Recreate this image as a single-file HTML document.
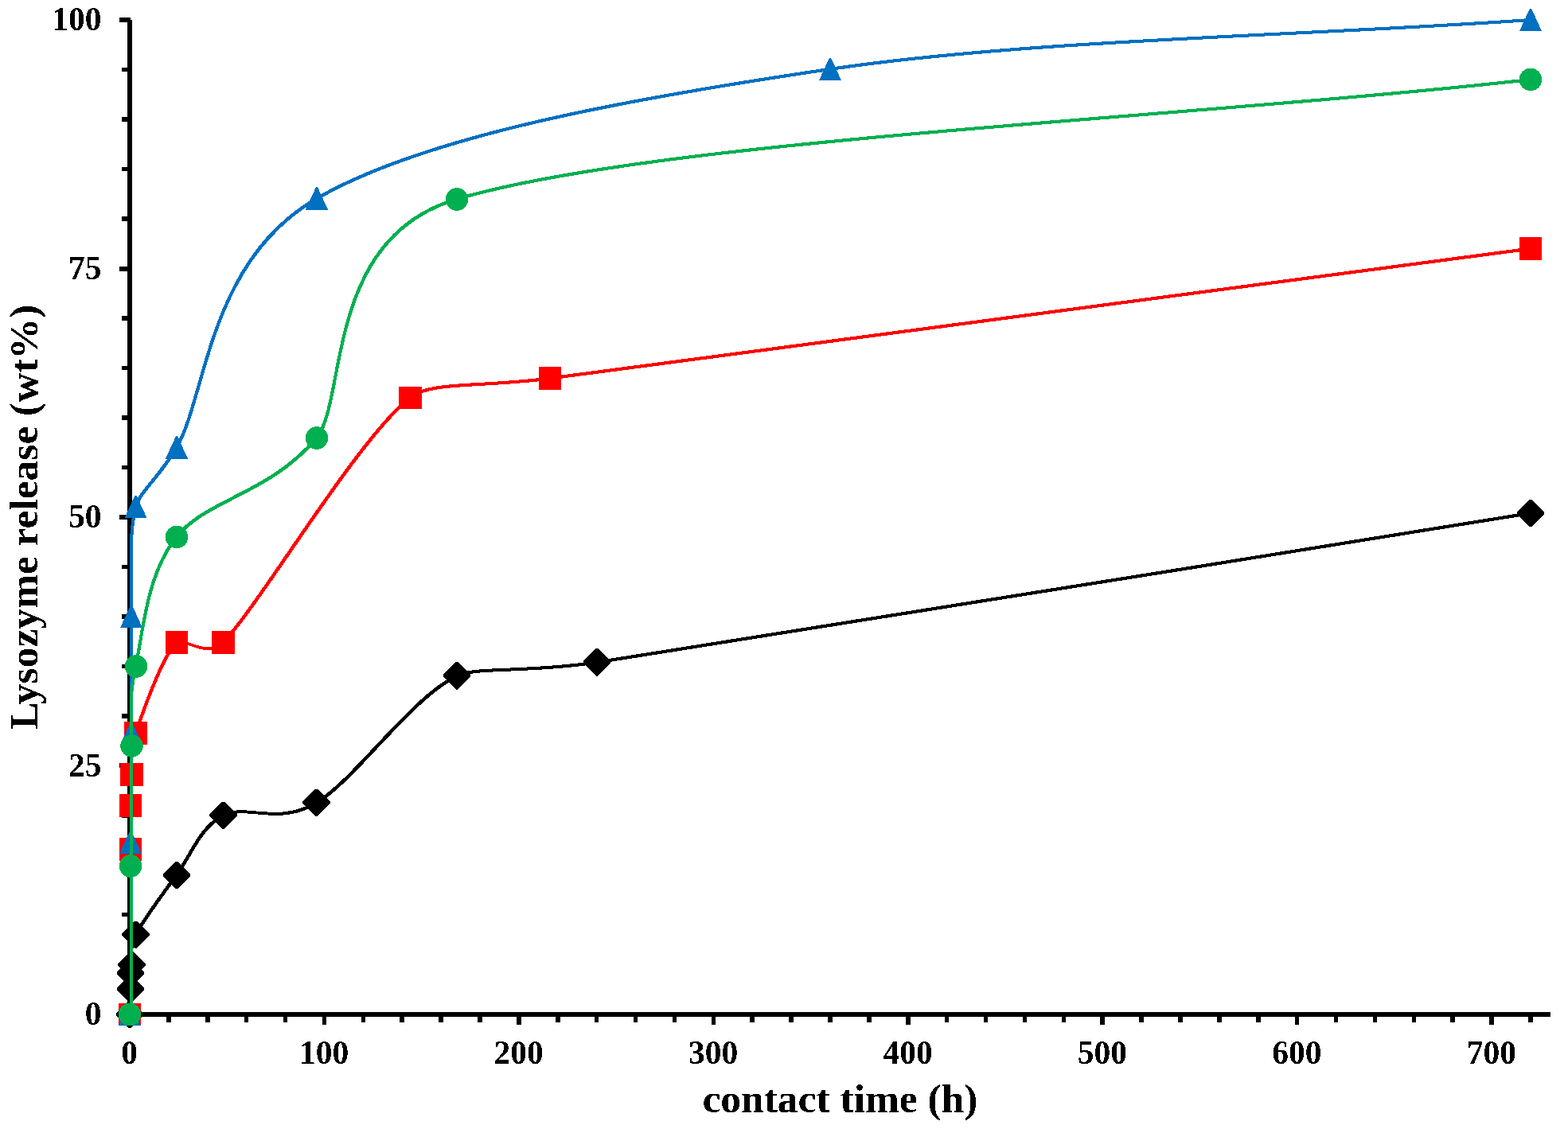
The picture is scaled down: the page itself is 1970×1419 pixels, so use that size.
<!DOCTYPE html>
<html lang="en"><head><meta charset="utf-8"><title>Lysozyme release vs contact time</title>
<style>
html,body{margin:0;padding:0;background:#fff;}
body{width:1970px;height:1419px;overflow:hidden;}
svg{display:block;}
text{font-family:"Liberation Serif",serif;font-weight:bold;fill:#000;}
.tick{font-size:41.5px;}
.title{font-size:51.5px;}
</style></head><body>
<svg width="1970" height="1419" viewBox="0 0 1970 1419">
<rect x="0" y="0" width="1970" height="1419" fill="#fff"/>
<defs><filter id="crisp" x="-5%" y="-5%" width="110%" height="110%" color-interpolation-filters="sRGB"><feComponentTransfer><feFuncA type="discrete" tableValues="0 0 1 1"/></feComponentTransfer></filter></defs>
<g fill="#000" shape-rendering="crispEdges">
<rect x="160" y="25" width="6" height="1253"/>
<rect x="160" y="1272" width="1788" height="6"/>
<rect x="150" y="1272" width="11" height="6"/>
<rect x="153" y="1209" width="8" height="6"/>
<rect x="153" y="1147" width="8" height="5"/>
<rect x="153" y="1085" width="8" height="5"/>
<rect x="153" y="1022" width="8" height="6"/>
<rect x="150" y="959" width="11" height="6"/>
<rect x="153" y="897" width="8" height="6"/>
<rect x="153" y="835" width="8" height="5"/>
<rect x="153" y="772" width="8" height="6"/>
<rect x="153" y="710" width="8" height="5"/>
<rect x="150" y="647" width="11" height="6"/>
<rect x="153" y="585" width="8" height="5"/>
<rect x="153" y="522" width="8" height="6"/>
<rect x="153" y="460" width="8" height="5"/>
<rect x="153" y="397" width="8" height="6"/>
<rect x="150" y="335" width="11" height="6"/>
<rect x="153" y="272" width="8" height="6"/>
<rect x="153" y="210" width="8" height="5"/>
<rect x="153" y="147" width="8" height="6"/>
<rect x="153" y="85" width="8" height="5"/>
<rect x="150" y="22" width="14" height="6"/>
<rect x="160" y="1277" width="6" height="11"/>
<rect x="209" y="1277" width="6" height="8"/>
<rect x="258" y="1277" width="6" height="8"/>
<rect x="307" y="1277" width="5" height="8"/>
<rect x="356" y="1277" width="5" height="8"/>
<rect x="405" y="1277" width="5" height="11"/>
<rect x="454" y="1277" width="5" height="8"/>
<rect x="502" y="1277" width="6" height="8"/>
<rect x="551" y="1277" width="6" height="8"/>
<rect x="600" y="1277" width="6" height="8"/>
<rect x="649" y="1277" width="6" height="11"/>
<rect x="698" y="1277" width="6" height="8"/>
<rect x="747" y="1277" width="5" height="8"/>
<rect x="796" y="1277" width="5" height="8"/>
<rect x="845" y="1277" width="5" height="8"/>
<rect x="894" y="1277" width="5" height="11"/>
<rect x="942" y="1277" width="6" height="8"/>
<rect x="991" y="1277" width="6" height="8"/>
<rect x="1040" y="1277" width="6" height="8"/>
<rect x="1089" y="1277" width="6" height="8"/>
<rect x="1138" y="1277" width="6" height="11"/>
<rect x="1187" y="1277" width="5" height="8"/>
<rect x="1236" y="1277" width="5" height="8"/>
<rect x="1285" y="1277" width="5" height="8"/>
<rect x="1334" y="1277" width="5" height="8"/>
<rect x="1382" y="1277" width="6" height="11"/>
<rect x="1431" y="1277" width="6" height="8"/>
<rect x="1480" y="1277" width="6" height="8"/>
<rect x="1529" y="1277" width="6" height="8"/>
<rect x="1578" y="1277" width="6" height="8"/>
<rect x="1627" y="1277" width="5" height="11"/>
<rect x="1676" y="1277" width="5" height="8"/>
<rect x="1725" y="1277" width="5" height="8"/>
<rect x="1774" y="1277" width="5" height="8"/>
<rect x="1822" y="1277" width="6" height="8"/>
<rect x="1871" y="1277" width="6" height="11"/>
<rect x="1920" y="1277" width="6" height="8"/>
</g>
<g class="tick" filter="url(#crisp)">
<text x="127.4" y="1288.2" text-anchor="end">0</text>
<text x="127.4" y="975.7" text-anchor="end">25</text>
<text x="127.4" y="663.2" text-anchor="end">50</text>
<text x="127.4" y="350.7" text-anchor="end">75</text>
<text x="127.4" y="38.2" text-anchor="end">100</text>
<text x="162.7" y="1337.3" text-anchor="middle">0</text>
<text x="407.1" y="1337.3" text-anchor="middle">100</text>
<text x="651.6" y="1337.3" text-anchor="middle">200</text>
<text x="896.0" y="1337.3" text-anchor="middle">300</text>
<text x="1140.5" y="1337.3" text-anchor="middle">400</text>
<text x="1384.9" y="1337.3" text-anchor="middle">500</text>
<text x="1629.3" y="1337.3" text-anchor="middle">600</text>
<text x="1873.8" y="1337.3" text-anchor="middle">700</text>
</g>
<g filter="url(#crisp)"><text class="title" x="1055.5" y="1397.6" text-anchor="middle">contact time (h)</text></g>
<g filter="url(#crisp)"><text class="title" transform="translate(47.4,649.7) rotate(-90)" text-anchor="middle">Lysozyme release (wt%)</text></g>
<g shape-rendering="crispEdges">
<g fill="none" stroke="#000000" stroke-width="2.8" stroke-linejoin="round" stroke-linecap="butt">
<path transform="translate(-0.6,-0.6)" d="M164.50,1275.00 C164.67,1264.57 164.92,1252.27 165.00,1243.70 C165.08,1235.13 165.00,1228.77 165.00,1223.60 C165.00,1220.15 164.39,1218.12 165.00,1212.70 C165.83,1205.36 161.94,1192.02 170.50,1175.00 C179.95,1156.22 203.40,1125.00 221.70,1100.00 C240.00,1075.00 251.00,1040.17 280.30,1025.00 C309.60,1009.83 348.60,1038.25 397.50,1009.00 C446.40,979.75 515.00,878.92 573.70,849.50 C596.52,838.07 662.29,845.75 749.70,832.50 C974.58,798.42 1531.90,707.50 1923.00,645.00"/>
<path transform="translate(0.0,0.0)" d="M164.50,1275.00 C164.67,1264.57 164.92,1252.27 165.00,1243.70 C165.08,1235.13 165.00,1228.77 165.00,1223.60 C165.00,1220.15 164.39,1218.12 165.00,1212.70 C165.83,1205.36 161.94,1192.02 170.50,1175.00 C179.95,1156.22 203.40,1125.00 221.70,1100.00 C240.00,1075.00 251.00,1040.17 280.30,1025.00 C309.60,1009.83 348.60,1038.25 397.50,1009.00 C446.40,979.75 515.00,878.92 573.70,849.50 C596.52,838.07 662.29,845.75 749.70,832.50 C974.58,798.42 1531.90,707.50 1923.00,645.00"/>
<path transform="translate(0.6,0.6)" d="M164.50,1275.00 C164.67,1264.57 164.92,1252.27 165.00,1243.70 C165.08,1235.13 165.00,1228.77 165.00,1223.60 C165.00,1220.15 164.39,1218.12 165.00,1212.70 C165.83,1205.36 161.94,1192.02 170.50,1175.00 C179.95,1156.22 203.40,1125.00 221.70,1100.00 C240.00,1075.00 251.00,1040.17 280.30,1025.00 C309.60,1009.83 348.60,1038.25 397.50,1009.00 C446.40,979.75 515.00,878.92 573.70,849.50 C596.52,838.07 662.29,845.75 749.70,832.50 C974.58,798.42 1531.90,707.50 1923.00,645.00"/>
</g>
<g fill="#000000">
<path d="M161.7,1257.8 L164.3,1257.8 L180.2,1273.7 L180.2,1276.3 L164.3,1292.2 L161.7,1292.2 L145.8,1276.3 L145.8,1273.7 Z"/>
<path d="M162.7,1226.3 L165.3,1226.3 L181.2,1242.2 L181.2,1244.8 L165.3,1260.7 L162.7,1260.7 L146.8,1244.8 L146.8,1242.2 Z"/>
<path d="M162.7,1206.3 L165.3,1206.3 L181.2,1222.2 L181.2,1224.8 L165.3,1240.7 L162.7,1240.7 L146.8,1224.8 L146.8,1222.2 Z"/>
<path d="M164.2,1195.3 L166.8,1195.3 L182.7,1211.2 L182.7,1213.8 L166.8,1229.7 L164.2,1229.7 L148.3,1213.8 L148.3,1211.2 Z"/>
<path d="M169.2,1157.8 L171.8,1157.8 L187.7,1173.7 L187.7,1176.3 L171.8,1192.2 L169.2,1192.2 L153.3,1176.3 L153.3,1173.7 Z"/>
<path d="M220.7,1082.8 L223.3,1082.8 L239.2,1098.7 L239.2,1101.3 L223.3,1117.2 L220.7,1117.2 L204.8,1101.3 L204.8,1098.7 Z"/>
<path d="M279.2,1007.8 L281.8,1007.8 L297.7,1023.7 L297.7,1026.3 L281.8,1042.2 L279.2,1042.2 L263.3,1026.3 L263.3,1023.7 Z"/>
<path d="M396.2,991.8 L398.8,991.8 L414.7,1007.7 L414.7,1010.3 L398.8,1026.2 L396.2,1026.2 L380.3,1010.3 L380.3,1007.7 Z"/>
<path d="M572.7,832.3 L575.3,832.3 L591.2,848.2 L591.2,850.8 L575.3,866.7 L572.7,866.7 L556.8,850.8 L556.8,848.2 Z"/>
<path d="M748.7,815.3 L751.3,815.3 L767.2,831.2 L767.2,833.8 L751.3,849.7 L748.7,849.7 L732.8,833.8 L732.8,831.2 Z"/>
<path d="M1921.7,627.8 L1924.3,627.8 L1940.2,643.7 L1940.2,646.3 L1924.3,662.2 L1921.7,662.2 L1905.8,646.3 L1905.8,643.7 Z"/>
</g></g>
<g shape-rendering="crispEdges">
<g fill="none" stroke="#FF0000" stroke-width="2.8" stroke-linejoin="round" stroke-linecap="butt">
<path transform="translate(-0.6,-0.6)" d="M164.50,1275.00 C164.67,1205.83 164.92,1111.27 165.00,1067.50 C165.05,1039.95 165.00,1022.27 165.00,1012.40 C165.00,996.72 164.08,988.57 165.00,973.40 C165.82,959.83 162.04,946.14 170.50,921.40 C179.95,893.75 203.40,826.48 221.70,807.50 C229.27,799.65 260.08,828.71 280.30,807.50 C329.18,756.22 446.55,555.13 515.00,499.80 C540.69,479.04 602.94,487.21 691.00,475.50 C925.67,444.28 1512.33,366.83 1923.00,312.50"/>
<path transform="translate(0.0,0.0)" d="M164.50,1275.00 C164.67,1205.83 164.92,1111.27 165.00,1067.50 C165.05,1039.95 165.00,1022.27 165.00,1012.40 C165.00,996.72 164.08,988.57 165.00,973.40 C165.82,959.83 162.04,946.14 170.50,921.40 C179.95,893.75 203.40,826.48 221.70,807.50 C229.27,799.65 260.08,828.71 280.30,807.50 C329.18,756.22 446.55,555.13 515.00,499.80 C540.69,479.04 602.94,487.21 691.00,475.50 C925.67,444.28 1512.33,366.83 1923.00,312.50"/>
<path transform="translate(0.6,0.6)" d="M164.50,1275.00 C164.67,1205.83 164.92,1111.27 165.00,1067.50 C165.05,1039.95 165.00,1022.27 165.00,1012.40 C165.00,996.72 164.08,988.57 165.00,973.40 C165.82,959.83 162.04,946.14 170.50,921.40 C179.95,893.75 203.40,826.48 221.70,807.50 C229.27,799.65 260.08,828.71 280.30,807.50 C329.18,756.22 446.55,555.13 515.00,499.80 C540.69,479.04 602.94,487.21 691.00,475.50 C925.67,444.28 1512.33,366.83 1923.00,312.50"/>
</g>
<g fill="#FF0000">
<rect x="149" y="1261" width="28" height="28"/>
<rect x="150" y="1053" width="28" height="29"/>
<rect x="150" y="998" width="28" height="29"/>
<rect x="151" y="959" width="29" height="29"/>
<rect x="156" y="907" width="29" height="29"/>
<rect x="208" y="793" width="28" height="29"/>
<rect x="266" y="793" width="29" height="29"/>
<rect x="501" y="486" width="29" height="28"/>
<rect x="677" y="461" width="28" height="29"/>
<rect x="1909" y="298" width="28" height="29"/>
</g></g>
<g shape-rendering="crispEdges">
<g fill="none" stroke="#0070C0" stroke-width="2.8" stroke-linejoin="round" stroke-linecap="butt">
<path transform="translate(-0.6,-0.6)" d="M164.50,1275.00 C164.67,1203.00 164.92,1117.83 165.00,1059.00 C165.08,1000.17 165.00,969.33 165.00,922.00 C165.00,874.67 164.08,822.37 165.00,775.00 C165.92,727.63 161.05,673.15 170.50,637.80 C176.22,616.40 198.78,602.05 221.70,562.90 C259.57,498.22 260.82,329.03 397.70,249.70 C534.58,170.37 788.78,124.35 1043.00,86.90 C1297.22,49.45 1629.67,45.63 1923.00,25.00"/>
<path transform="translate(0.0,0.0)" d="M164.50,1275.00 C164.67,1203.00 164.92,1117.83 165.00,1059.00 C165.08,1000.17 165.00,969.33 165.00,922.00 C165.00,874.67 164.08,822.37 165.00,775.00 C165.92,727.63 161.05,673.15 170.50,637.80 C176.22,616.40 198.78,602.05 221.70,562.90 C259.57,498.22 260.82,329.03 397.70,249.70 C534.58,170.37 788.78,124.35 1043.00,86.90 C1297.22,49.45 1629.67,45.63 1923.00,25.00"/>
<path transform="translate(0.6,0.6)" d="M164.50,1275.00 C164.67,1203.00 164.92,1117.83 165.00,1059.00 C165.08,1000.17 165.00,969.33 165.00,922.00 C165.00,874.67 164.08,822.37 165.00,775.00 C165.92,727.63 161.05,673.15 170.50,637.80 C176.22,616.40 198.78,602.05 221.70,562.90 C259.57,498.22 260.82,329.03 397.70,249.70 C534.58,170.37 788.78,124.35 1043.00,86.90 C1297.22,49.45 1629.67,45.63 1923.00,25.00"/>
</g>
<g fill="#0070C0">
<path d="M162.0,1260.6 L164.0,1260.6 L177.0,1289.0 L149.0,1289.0 Z"/>
<path d="M163.0,1044.6 L165.0,1044.6 L178.0,1073.0 L150.0,1073.0 Z"/>
<path d="M164.0,907.6 L166.0,907.6 L179.0,936.0 L151.0,936.0 Z"/>
<path d="M164.0,760.6 L166.0,760.6 L179.0,789.0 L151.0,789.0 Z"/>
<path d="M169.5,622.6 L171.5,622.6 L184.5,651.0 L156.5,651.0 Z"/>
<path d="M221.0,548.1 L223.0,548.1 L236.0,576.5 L208.0,576.5 Z"/>
<path d="M397.0,235.1 L399.0,235.1 L412.0,263.5 L384.0,263.5 Z"/>
<path d="M1042.0,72.6 L1044.0,72.6 L1057.0,101.0 L1029.0,101.0 Z"/>
<path d="M1922.0,10.6 L1924.0,10.6 L1937.0,39.0 L1909.0,39.0 Z"/>
</g></g>
<g shape-rendering="crispEdges">
<g fill="none" stroke="#00B050" stroke-width="2.8" stroke-linejoin="round" stroke-linecap="butt">
<path transform="translate(-0.6,-0.6)" d="M164.50,1275.00 C164.67,1212.83 164.92,1144.73 165.00,1088.50 C165.08,1032.27 164.08,979.43 165.00,937.60 C165.92,895.77 161.05,881.27 170.50,837.50 C179.95,793.73 183.83,722.87 221.70,675.00 C259.57,627.13 339.03,621.08 397.70,550.30 C436.19,503.86 406.91,299.54 573.70,250.30 C827.92,175.25 1473.23,150.10 1923.00,100.00"/>
<path transform="translate(0.0,0.0)" d="M164.50,1275.00 C164.67,1212.83 164.92,1144.73 165.00,1088.50 C165.08,1032.27 164.08,979.43 165.00,937.60 C165.92,895.77 161.05,881.27 170.50,837.50 C179.95,793.73 183.83,722.87 221.70,675.00 C259.57,627.13 339.03,621.08 397.70,550.30 C436.19,503.86 406.91,299.54 573.70,250.30 C827.92,175.25 1473.23,150.10 1923.00,100.00"/>
<path transform="translate(0.6,0.6)" d="M164.50,1275.00 C164.67,1212.83 164.92,1144.73 165.00,1088.50 C165.08,1032.27 164.08,979.43 165.00,937.60 C165.92,895.77 161.05,881.27 170.50,837.50 C179.95,793.73 183.83,722.87 221.70,675.00 C259.57,627.13 339.03,621.08 397.70,550.30 C436.19,503.86 406.91,299.54 573.70,250.30 C827.92,175.25 1473.23,150.10 1923.00,100.00"/>
</g>
<g fill="#00B050">
<circle cx="163.0" cy="1275.0" r="14.25"/>
<circle cx="164.0" cy="1088.5" r="14.25"/>
<circle cx="165.5" cy="937.5" r="14.25"/>
<circle cx="171.0" cy="837.5" r="14.25"/>
<circle cx="222.0" cy="675.0" r="14.25"/>
<circle cx="398.0" cy="550.5" r="14.25"/>
<circle cx="574.0" cy="250.5" r="14.25"/>
<circle cx="1923.0" cy="100.0" r="14.25"/>
</g></g>
</svg></body></html>
